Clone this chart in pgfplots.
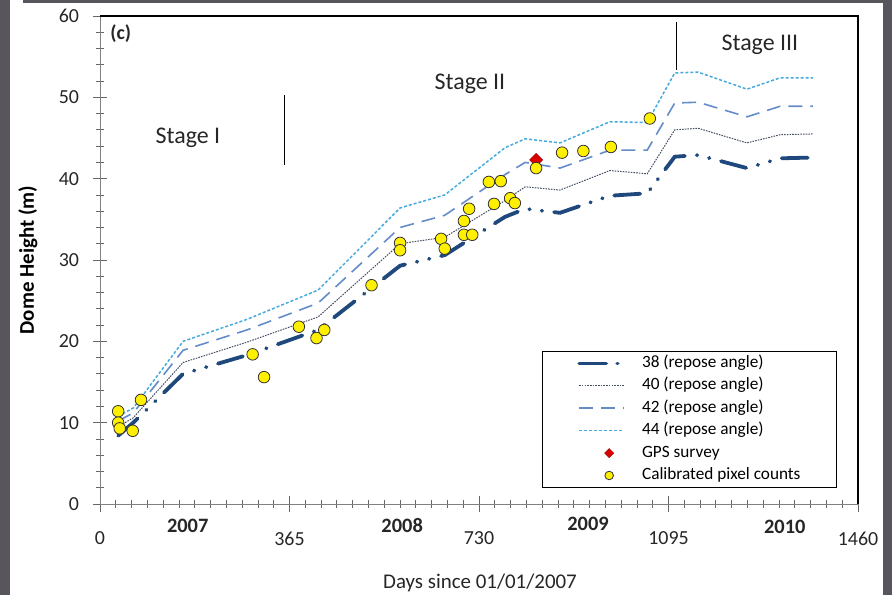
\documentclass[border=0pt]{standalone}
\usepackage{fontspec}
\setmainfont{Carlito}
\usepackage{pgfplots}
\usepackage{pgfplotstable}
\pgfplotsset{compat=1.18}
\definecolor{cA}{RGB}{31,73,125}
\definecolor{cB}{RGB}{70,80,100}
\definecolor{cC}{RGB}{100,140,200}
\definecolor{cD}{RGB}{70,170,220}
\definecolor{band}{RGB}{88,86,92}
\definecolor{dotY}{RGB}{255,240,0}
\definecolor{gpsR}{RGB}{220,0,0}

\pgfplotsset{
  lineleg/.style={legend image code/.code={\draw[##1] (0bp,0bp) -- (45bp,0bp);}},
  dashdotleg/.style={legend image code/.code={\draw[##1, dash pattern=on 27bp off 11bp on 0.5bp off 20bp] (0bp,0bp) -- (45bp,0bp);}},
  markleg/.style={legend image code/.code={\draw[##1, mark size=4.3bp] plot coordinates {(30bp,0bp)};}},
  dmdleg/.style={legend image code/.code={\draw[##1, mark size=3.2bp] plot coordinates {(30bp,0bp)};}},
}

\pgfplotstableread{
day s38 s40 s42 s44
35 8.4 9.5 10.2 10.8
64 10.0 10.6 11.2 11.8
160 16.0 17.4 18.9 20.0
283 18.3 19.9 21.4 22.7
420 21.4 23.0 24.7 26.3
578 29.3 32.0 34.0 36.4
664 30.6 32.8 35.5 38.0
780 35.3 37.3 40.5 43.8
819 36.3 39.0 42.0 44.9
886 35.8 38.6 41.3 44.4
982 37.9 41.0 43.5 47.0
1054 38.2 40.6 43.5 46.9
1107 42.7 46.0 49.3 53.0
1152 42.9 46.2 49.4 53.1
1246 41.3 44.4 47.6 51.0
1310 42.5 45.4 48.9 52.4
1373 42.6 45.5 48.9 52.4
}\model

\pgfplotstableread{
day h
35 11.4
35 10.0
38 9.3
63 9.0
79 12.8
294 18.4
316 15.6
383 21.8
417 20.4
432 21.4
523 26.9
578 32.1
578 31.2
657 32.6
664 31.4
701 33.1
717 33.1
701 34.8
711 36.3
749 39.6
772 39.7
759 36.9
790 37.6
799 37.0
840 41.3
890 43.2
931 43.4
984 43.9
1059 47.4
}\pix

\pgfplotstableread{
day h
840 42.3
}\gps

\begin{document}
\begin{tikzpicture}
\path[use as bounding box] (-100bp,-91bp) rectangle (792bp,504bp);
\fill[band] (-100bp,-91bp) rectangle (-90bp,504bp);
\fill[band] (-77bp,501bp) rectangle (792bp,504bp);
\fill[band] (783bp,-91bp) rectangle (792bp,504bp);
\begin{axis}[
  name=ax, at={(0,0)}, anchor=south west,
  scale only axis, width=758bp, height=488bp,
  xmin=0, xmax=1460, ymin=0, ymax=60,
  xtick={0,365,730,1095,1460}, ytick={0,10,...,60},
  minor x tick num=11, minor y tick num=4,
  xtick pos=left, ytick pos=left,
  tick align=center, major tick length=15bp, minor tick length=8bp,
  tick style={black!60, line width=0.9bp},
  minor tick style={black!60, line width=0.8bp},
  axis line style={black!50, line width=1bp},
  clip=false,
  /pgf/number format/1000 sep={},
  /pgf/number format/assume math mode=true,
  ticklabel style={font=\fontsize{20}{24}\selectfont, text=black!85},
  xticklabel style={yshift=-17bp},
  yticklabel style={xshift=-10bp},
  legend style={at={(0.9723,0.0328)}, anchor=south east, draw=black, line width=1bp,
    font=\fontsize{17.3}{20}\selectfont, inner xsep=35bp, inner ysep=3bp,
    nodes={inner sep=1bp, text height=12bp, text depth=4bp},
    row sep=4.4bp, column sep=15bp},
  legend cell align=left,
]
\addplot[cA, line width=3.8bp, line cap=round, dash pattern=on 26bp off 12bp on 0.5bp off 12bp on 0.5bp off 12bp, dashdotleg]
  table[x=day,y=s38] {\model};
\addlegendentry{38 (repose angle)}
\addplot[cB, line width=1bp, dash pattern=on 1.6bp off 1.1bp, lineleg]
  table[x=day,y=s40] {\model};
\addlegendentry{40 (repose angle)}
\addplot[cC, line width=1.6bp, dash pattern=on 14bp off 8bp, lineleg]
  table[x=day,y=s42] {\model};
\addlegendentry{42 (repose angle)}
\addplot[cD, line width=1.5bp, dash pattern=on 3bp off 2bp, lineleg]
  table[x=day,y=s44] {\model};
\addlegendentry{44 (repose angle)}
\addplot[only marks, mark=square*, mark size=4.6bp, mark options={rotate=45, fill=gpsR, draw=red!60!black, line width=0.5bp}, dmdleg]
  table[x=day,y=h] {\gps};
\addlegendentry{GPS survey}
\addplot[only marks, mark=*, mark size=5.8bp, mark options={fill=dotY, draw=black!80, line width=0.8bp}, markleg]
  table[x=day,y=h] {\pix};
\addlegendentry{Calibrated pixel counts}

\draw[black, line width=1.6bp] (rel axis cs:0,1) -- (rel axis cs:1,1) -- (rel axis cs:1,0);
\draw[black, line width=1.3bp] (axis cs:356,41.7) -- (axis cs:356,50.3);
\draw[black, line width=1.3bp] (axis cs:1111,53.4) -- (axis cs:1111,59.3);
\node[font=\fontsize{24}{28}\selectfont, text=black!85] at (axis cs:169.5,45.0) {Stage I};
\node[font=\fontsize{24}{28}\selectfont, text=black!85] at (axis cs:712.6,51.7) {Stage II};
\node[font=\fontsize{24}{28}\selectfont, text=black!85] at (axis cs:1271,56.5) {Stage III};
\node[font=\bfseries\fontsize{20}{24}\selectfont, text=black!85] at (axis cs:40,57.8) {(c)};
\node[font=\bfseries\fontsize{20.5}{24}\selectfont, text=black!85] at (axis cs:169,-2.7) {2007};
\node[font=\bfseries\fontsize{20.5}{24}\selectfont, text=black!85] at (axis cs:582,-2.7) {2008};
\node[font=\bfseries\fontsize{20.5}{24}\selectfont, text=black!85] at (axis cs:940,-2.4) {2009};
\node[font=\bfseries\fontsize{20.5}{24}\selectfont, text=black!85] at (axis cs:1319,-2.8) {2010};
\end{axis}
\node[rotate=90, font=\bfseries\fontsize{21}{24}\selectfont, text=black] at (-72bp,244bp) {Dome Height (m)};
\node[font=\fontsize{21}{24}\selectfont, text=black!85] at (380bp,-79bp) {Days since 01/01/2007};
\end{tikzpicture}
\end{document}
